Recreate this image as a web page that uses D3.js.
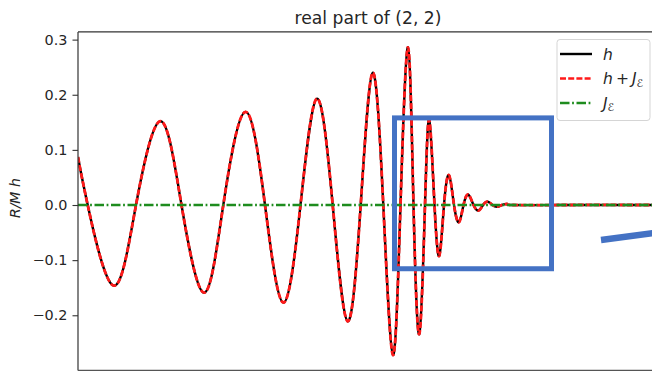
<!DOCTYPE html>
<html>
<head>
<meta charset="utf-8">
<script src="https://cdn.jsdelivr.net/npm/d3@7"></script>
<style>
  html, body { margin: 0; padding: 0; background: #fff; }
  svg { display: block; font-family: "DejaVu Sans", sans-serif; }
</style>
</head>
<body>
<svg id="chart" width="652" height="371"></svg>
<script>
// (2,2) strain mode, real part: samples at extrema and zero crossings (time in M, merger at t = 0)
const times = [-330, -320.3, -294.7, -272, -247.5, -226.5, -204, -184.7, -162.5, -143,
  -124.7, -107.5, -91, -75.3, -60.3, -47.3, -35.3, -24.7, -15, -7.5,
  0, 5.5, 11.3, 17, 21.3, 26.5, 31.3, 36, 41, 46,
  51, 55.5, 60.3, 65.5, 70.7, 75, 79.8, 84.5, 89.3, 94,
  99, 104, 152, 250];
const hValues = [0.087, 0, -0.146, 0, 0.152, 0, -0.159, 0, 0.169, 0,
  -0.177, 0, 0.193, 0, -0.211, 0, 0.240, 0, -0.272, 0,
  0.286, 0, -0.234, 0, 0.154, 0, -0.092, 0, 0.054, 0,
  -0.031, 0, 0.019, 0, -0.010, 0, 0.006, 0, -0.003, 0,
  0.002, 0, 0, 0];
// Memory contribution J_E (negligible at this scale)
const jTimes = [-330, -100, 0, 100, 250];
const jValues = [0, 0, 0, 0, 0];

const yTicks = [-0.2, -0.1, 0.0, 0.1, 0.2, 0.3];
const seriesNames = ["h", "h+J", "J"];

const svg = d3.select("#chart");
const plot = { left: 78, right: 658, top: 31.9, bottom: 370.4 };

const x = d3.scaleLinear().domain([-330, 250]).range([plot.left, plot.right]);
const y = d3.scaleLinear().domain([-0.3, 0.314]).range([plot.bottom, plot.top]);
const jAt = d3.scaleLinear().domain(jTimes).range(jValues);

const hData = times.map((t, i) => ({ t, v: hValues[i] }));
const hjData = times.map((t, i) => ({ t, v: hValues[i] + jAt(t) }));
const jData = jTimes.map((t, i) => ({ t, v: jValues[i] }));

const colors = { h: "#000", hj: "#ff1a1a", j: "#1e8c1e" };
const dashes = { hj: "6,2.2", j: "9.5,2.6,1.8,2.6" };

svg.append("defs").append("clipPath").attr("id", "clip")
  .append("rect")
  .attr("x", plot.left).attr("y", plot.top)
  .attr("width", plot.right - plot.left).attr("height", plot.bottom - plot.top);

const line = d3.line().x(d => x(d.t)).y(d => y(d.v)).curve(d3.curveNatural);
const flat = d3.line().x(d => x(d.t)).y(d => y(d.v));

const g = svg.append("g").attr("clip-path", "url(#clip)");
g.append("path").datum(hData).attr("d", line)
  .attr("fill", "none").attr("stroke", colors.h).attr("stroke-width", 2.4);
g.append("path").datum(hjData).attr("d", line)
  .attr("fill", "none").attr("stroke", colors.hj).attr("stroke-width", 2.8)
  .attr("stroke-dasharray", dashes.hj);
g.append("path").datum(jData).attr("d", flat)
  .attr("fill", "none").attr("stroke", colors.j).attr("stroke-width", 2.6)
  .attr("stroke-dasharray", dashes.j);

// Axes frame
svg.append("line").attr("x1", plot.left).attr("x2", plot.left)
  .attr("y1", plot.top).attr("y2", plot.bottom)
  .attr("stroke", "#333").attr("stroke-width", 1.2);
svg.append("line").attr("x1", plot.left).attr("x2", plot.right)
  .attr("y1", plot.top).attr("y2", plot.top)
  .attr("stroke", "#333").attr("stroke-width", 1.2);
svg.append("line").attr("x1", plot.left).attr("x2", plot.right)
  .attr("y1", plot.bottom).attr("y2", plot.bottom)
  .attr("stroke", "#555").attr("stroke-width", 1.2);

// Y axis
const yAxis = d3.axisLeft(y).tickValues(yTicks).tickSize(5.5).tickPadding(5)
  .tickFormat(d => d3.format(".1f")(d).replace("-", "\u2212"));
const ya = svg.append("g").attr("transform", `translate(${plot.left},0)`).call(yAxis);
ya.select(".domain").remove();
ya.selectAll(".tick line").attr("stroke", "#333").attr("stroke-width", 1.1);
ya.selectAll(".tick text").attr("fill", "#262626").attr("font-size", 14.4)
  .attr("font-family", "DejaVu Sans, sans-serif");

// Title and axis label
svg.append("text").attr("x", (plot.left + plot.right) / 2).attr("y", 24)
  .attr("text-anchor", "middle").attr("font-size", 17.2).attr("fill", "#262626")
  .text("real part of (2, 2)");
svg.append("text")
  .attr("transform", `translate(20,${(plot.top + plot.bottom) / 2 - 3}) rotate(-90)`)
  .attr("text-anchor", "middle").attr("font-size", 14).attr("font-style", "italic")
  .attr("fill", "#262626").text("R/M h");

// Legend
const lg = svg.append("g");
lg.append("rect").attr("x", 557).attr("y", 39.5).attr("width", 93).attr("height", 81)
  .attr("rx", 3).attr("fill", "#fff").attr("fill-opacity", 0.8)
  .attr("stroke", "#d5d5d5").attr("stroke-width", 1);
const legendRows = [
  { name: seriesNames[0], color: colors.h, dash: null, w: 2.4, yy: 54 },
  { name: seriesNames[1], color: colors.hj, dash: dashes.hj, w: 2.6, yy: 78.5 },
  { name: seriesNames[2], color: colors.j, dash: dashes.j, w: 2.6, yy: 103 }
];
legendRows.forEach(r => {
  lg.append("line").attr("x1", 560).attr("x2", 592).attr("y1", r.yy).attr("y2", r.yy)
    .attr("stroke", r.color).attr("stroke-width", r.w)
    .attr("stroke-dasharray", r.dash);
  const t = lg.append("text").attr("x", 603).attr("y", r.yy + 5.5)
    .attr("font-size", 15.5).attr("fill", "#262626");
  if (r.name === "h") {
    t.append("tspan").attr("font-style", "italic").text("h");
  } else if (r.name === "h+J") {
    t.append("tspan").attr("font-style", "italic").text("h");
    t.append("tspan").text("\u2009+\u2009");
    t.append("tspan").attr("font-style", "italic").text("J");
    t.append("tspan").attr("font-size", 11).attr("dy", 2.5).text("\u2130");
  } else {
    t.append("tspan").attr("font-style", "italic").text("J");
    t.append("tspan").attr("font-size", 11).attr("dy", 2.5).text("\u2130");
  }
});

// Zoom-in box around the ringdown, with its pointer line
const boxT = [-13.5, 143.5], boxV = [-0.1156, 0.158];
svg.append("rect")
  .attr("x", x(boxT[0])).attr("y", y(boxV[1]))
  .attr("width", x(boxT[1]) - x(boxT[0])).attr("height", y(boxV[0]) - y(boxV[1]))
  .attr("fill", "none").attr("stroke", "#4472c4").attr("stroke-width", 5);
svg.append("line")
  .attr("x1", x(193)).attr("y1", y(-0.0635))
  .attr("x2", x(252)).attr("y2", y(-0.0495))
  .attr("stroke", "#4472c4").attr("stroke-width", 6.5);
</script>
</body>
</html>
